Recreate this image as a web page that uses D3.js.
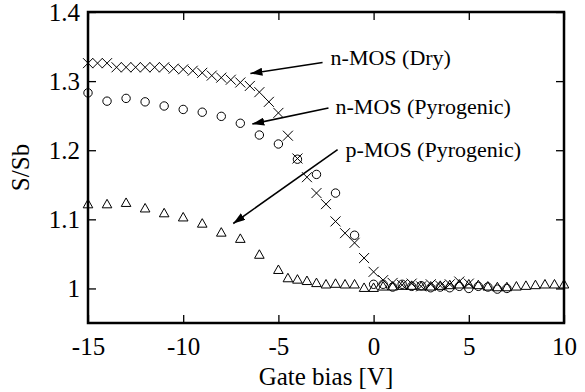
<!DOCTYPE html>
<html>
<head>
<meta charset="utf-8">
<script src="https://cdn.jsdelivr.net/npm/d3@7"></script>
<style>
  body { margin: 0; background: #fff; }
</style>
</head>
<body>
<svg id="chart"></svg>
<script>
// n-MOS (Dry), 0.5 V steps
const dryX = [-15, -14.5, -14, -13.5, -13, -12.5, -12, -11.5, -11, -10.5, -10, -9.5, -9, -8.5, -8, -7.5, -7, -6.5, -6, -5.5,
	-5, -4.5, -4, -3.5, -3, -2.5, -2, -1.5, -1, -0.5, 0, 0.5, 1, 1.5, 2, 2.5, 3, 3.5, 4, 4.5, 5];
const dryY = [1.326, 1.326, 1.326, 1.320, 1.320, 1.320, 1.320, 1.320, 1.320, 1.318, 1.317, 1.315, 1.312, 1.308, 1.305, 1.302, 1.298, 1.293, 1.284, 1.270,
	1.254, 1.221, 1.188, 1.161, 1.138, 1.122, 1.097, 1.080, 1.066, 1.044, 1.024, 1.012, 1.008, 1.005, 1.007, 1.003, 1.006, 1.004, 1.006, 1.010, 1.007];

// n-MOS (Pyrogenic)
const pyroNX = [-15, -14, -13, -12, -11, -10, -9, -8, -7, -6, -5, -4, -3, -2, -1,
	0, 0.5, 1, 1.5, 2, 2.5, 3, 3.5, 4, 4.5, 5, 5.5, 6, 6.5, 7];
const pyroNY = [1.283, 1.271, 1.275, 1.270, 1.264, 1.259, 1.255, 1.249, 1.239, 1.222, 1.209, 1.187, 1.165, 1.138, 1.077,
	1.006, 1.006, 1.002, 1.006, 1.003, 1.004, 1.001, 1.002, 1.001, 1.003, 1.000, 1.003, 1.002, 0.999, 1.000];

// p-MOS (Pyrogenic)
const pyroPX = [-15, -14, -13, -12, -11, -10, -9, -8, -7, -6, -5,
	-4.5, -4, -3.5, -3, -2.5, -2, -1.5, -1, -0.5,
	0, 0.5, 1, 1.5, 2, 2.5, 3, 3.5, 4, 4.5, 5, 5.5, 6, 6.5, 7, 7.5, 8, 8.5, 9, 9.5, 10];
const pyroPY = [1.121, 1.121, 1.123, 1.115, 1.108, 1.102, 1.093, 1.080, 1.071, 1.048, 1.026,
	1.014, 1.012, 1.010, 1.007, 1.005, 1.006, 1.005, 1.005, 1.000,
	1.000, 1.002, 1.002, 1.003, 1.003, 1.002, 1.002, 1.003, 1.004, 1.005, 1.005, 1.004, 1.002, 1.001, 1.001, 1.002, 1.003, 1.004, 1.005, 1.005, 1.005];

const xTicks = [-15, -10, -5, 0, 5, 10];
const yTicks = [1, 1.1, 1.2, 1.3, 1.4];

// annotation text anchor + arrow (from -> to), in data units
const notes = [
	{ text: "n-MOS (Dry)",       tx: -2.26, ty: 1.323, x1: -2.68, y1: 1.327, x2: -6.47, y2: 1.311 },
	{ text: "n-MOS (Pyrogenic)", tx: -2.00, ty: 1.252, x1: -2.37, y1: 1.261, x2: -6.37, y2: 1.238 },
	{ text: "p-MOS (Pyrogenic)", tx: -1.47, ty: 1.190, x1: -1.89, y1: 1.201, x2: -7.37, y2: 1.094 }
];

const FONT = "'Liberation Serif', 'Times New Roman', 'DejaVu Serif', serif";
const width = 585, height = 392;
const margin = { top: 12, right: 21, bottom: 69, left: 88 };

const svg = d3.select("#chart")
	.attr("width", width).attr("height", height)
	.attr("font-family", FONT);

const x = d3.scaleLinear([-15, 10], [margin.left, width - margin.right]);
const y = d3.scaleLinear([0.95, 1.4], [height - margin.bottom, margin.top]);

const xFmt = d => String(d);   // plain hyphen minus like the original
const yFmt = d => d === 1 ? "1" : d3.format(".1f")(d);

// axes with inward ticks
svg.append("g")
	.attr("transform", `translate(0,${y.range()[0]})`)
	.call(d3.axisBottom(x).tickValues(xTicks).tickSize(-8).tickPadding(14).tickFormat(xFmt))
	.call(g => g.select(".domain").remove());
svg.append("g")
	.attr("transform", `translate(0,${y.range()[1]})`)
	.call(d3.axisTop(x).tickValues(xTicks).tickSize(-8).tickFormat(""))
	.call(g => g.select(".domain").remove());
svg.append("g")
	.attr("transform", `translate(${x.range()[0]},0)`)
	.call(d3.axisLeft(y).tickValues(yTicks).tickSize(-8).tickPadding(8).tickFormat(yFmt))
	.call(g => g.select(".domain").remove());
svg.append("g")
	.attr("transform", `translate(${x.range()[1]},0)`)
	.call(d3.axisRight(y).tickValues(yTicks).tickSize(-8).tickFormat(""))
	.call(g => g.select(".domain").remove());

svg.selectAll("g").attr("font-family", FONT).attr("font-size", 25);
svg.selectAll(".tick line").attr("stroke", "#000").attr("stroke-width", 1.3);
svg.selectAll(".tick text").attr("fill", "#000").attr("font-family", FONT).attr("font-size", 25);

// frame
svg.append("rect")
	.attr("x", x.range()[0]).attr("y", y.range()[1])
	.attr("width", x.range()[1] - x.range()[0])
	.attr("height", y.range()[0] - y.range()[1])
	.attr("fill", "none").attr("stroke", "#000").attr("stroke-width", 2.5);

// markers
const marks = svg.append("g").attr("fill", "none").attr("stroke", "#000").attr("stroke-width", 1);

marks.selectAll(".dry").data(dryX).join("path")
	.attr("class", "dry")
	.attr("transform", (d, i) => `translate(${x(d)},${y(dryY[i])})`)
	.attr("d", "M-5,-5L5,5M-5,5L5,-5");

marks.selectAll(".pn").data(pyroNX).join("circle")
	.attr("class", "pn")
	.attr("cx", d => x(d))
	.attr("cy", (d, i) => y(pyroNY[i]))
	.attr("r", 4.2);

marks.selectAll(".pp").data(pyroPX).join("path")
	.attr("class", "pp")
	.attr("transform", (d, i) => `translate(${x(d)},${y(pyroPY[i])})`)
	.attr("d", "M0,-5.5L4.8,3L-4.8,3Z");

// arrows
svg.append("defs").append("marker")
	.attr("id", "head")
	.attr("viewBox", "0 0 12 8")
	.attr("refX", 12).attr("refY", 4)
	.attr("markerWidth", 12).attr("markerHeight", 8)
	.attr("markerUnits", "userSpaceOnUse")
	.attr("orient", "auto")
	.append("path").attr("d", "M0,0L12,4L0,8Z").attr("fill", "#000");

svg.selectAll(".arrow").data(notes).join("line")
	.attr("class", "arrow")
	.attr("x1", d => x(d.x1)).attr("y1", d => y(d.y1))
	.attr("x2", d => x(d.x2)).attr("y2", d => y(d.y2))
	.attr("stroke", "#000").attr("stroke-width", 1.6)
	.attr("marker-end", "url(#head)");

svg.selectAll(".note").data(notes).join("text")
	.attr("class", "note")
	.attr("x", d => x(d.tx)).attr("y", d => y(d.ty))
	.attr("font-family", FONT)
	.attr("font-size", 22)
	.text(d => d.text);

// axis titles
svg.append("text")
	.attr("x", (x.range()[0] + x.range()[1]) / 2)
	.attr("y", 385)
	.attr("text-anchor", "middle")
	.attr("font-family", FONT)
	.attr("font-size", 25)
	.text("Gate bias [V]");

svg.append("text")
	.attr("transform", `translate(29,${(y.range()[0] + y.range()[1]) / 2}) rotate(-90)`)
	.attr("text-anchor", "middle")
	.attr("font-family", FONT)
	.attr("font-size", 25)
	.text("S/Sb");
</script>
</body>
</html>
